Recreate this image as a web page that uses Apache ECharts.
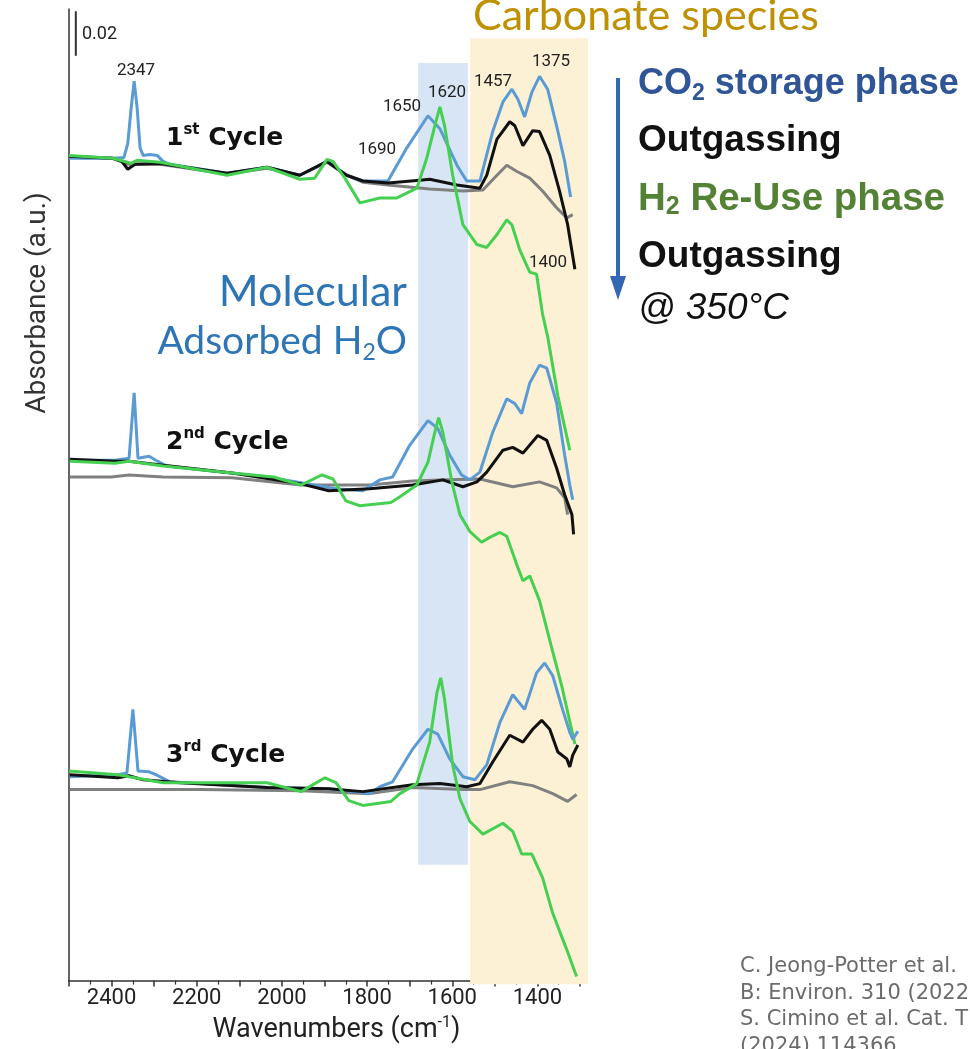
<!DOCTYPE html>
<html><head><meta charset="utf-8">
<script src="https://cdn.jsdelivr.net/npm/echarts@6/dist/echarts.min.js"></script>
<style>html,body{margin:0;padding:0;background:#fff}#c{width:970px;height:1049px}</style>
</head><body><div id="c"></div>
<script>
// ---- data: [wavenumber (cm-1), absorbance offset (mA.U.)] ----
const blue1 = [[2500,369.0],[2397,369.0],[2371,369.4],[2362,375.6],[2354,391.6],[2347,403.6],[2340,391.6],[2333,373.6],[2326,370.3],[2310,370.7],[2293,370.3],[2279,367.6],[2263,366.3],[2129,362.3],[2035,365.0],[1958,361.4],[1894,367.6],[1848,361.4],[1810,358.8],[1751,358.8],[1707,373.6],[1657,388.1],[1629,382.3],[1589,365.9],[1566,358.8],[1535,358.8],[1505,381.0],[1481,394.3],[1460,400.0],[1446,395.6],[1430,387.6],[1413,398.7],[1395,405.8],[1376,400.0],[1355,383.6],[1336,367.6],[1322,351.6]];
const black1 = [[2500,369.9],[2397,369.0],[2376,367.6],[2362,364.1],[2345,366.3],[2286,366.7],[2129,362.3],[2035,365.0],[1958,361.4],[1894,367.6],[1848,361.4],[1810,358.8],[1751,357.9],[1676,359.2],[1653,359.6],[1589,357.0],[1535,355.6],[1519,361.4],[1495,377.6],[1465,385.4],[1453,383.6],[1434,374.7],[1411,381.4],[1395,381.0],[1371,370.3],[1348,354.3],[1329,339.2],[1312,319.2]];
const gray1 = [[2500,369.4],[2397,369.0],[2362,366.3],[2286,366.3],[2129,361.9],[2035,364.5],[1958,361.4],[1894,367.2],[1848,361.4],[1810,358.3],[1751,357.0],[1653,355.2],[1575,354.3],[1528,354.8],[1495,361.4],[1472,365.9],[1449,363.2],[1418,360.1],[1388,354.3],[1355,346.8],[1331,342.3],[1317,343.7]];
const green1 = [[2500,370.3],[2397,369.0],[2369,367.6],[2354,366.7],[2340,368.1],[2286,367.2],[2129,361.4],[2035,365.0],[1958,359.6],[1923,360.1],[1894,368.5],[1880,367.6],[1852,360.1],[1817,349.0],[1770,351.2],[1730,351.2],[1683,355.6],[1660,369.0],[1641,383.6],[1629,392.1],[1618,383.6],[1599,361.4],[1575,339.2],[1542,330.3],[1519,329.0],[1495,334.8],[1472,341.4],[1460,339.2],[1441,327.7],[1418,317.9],[1402,317.0],[1388,299.2],[1376,289.0],[1352,262.4],[1324,238.0]];

const blue2 = [[2498,233.5],[2392,233.5],[2359,234.4],[2347,263.7],[2338,234.4],[2312,235.3],[2296,233.5],[2270,230.9],[2035,226.0],[1873,220.7],[1810,219.8],[1770,224.7],[1740,226.0],[1700,240.2],[1657,251.3],[1634,247.8],[1606,235.8],[1578,226.9],[1559,224.7],[1535,228.2],[1505,246.0],[1472,261.1],[1453,258.9],[1437,254.4],[1418,268.2],[1395,276.2],[1378,274.8],[1355,259.3],[1336,235.8],[1324,222.4],[1317,215.8]];
const black2 = [[2498,234.0],[2392,233.1],[2359,233.1],[2279,231.3],[2117,227.8],[1955,222.9],[1890,219.8],[1794,220.7],[1693,222.4],[1622,224.7],[1575,221.6],[1542,223.8],[1519,228.2],[1481,238.0],[1458,239.3],[1434,236.7],[1399,244.6],[1378,242.4],[1355,230.0],[1336,218.0],[1319,209.1],[1315,200.2]];
const gray2 = [[2498,226.0],[2401,226.0],[2359,226.9],[2279,226.0],[2117,225.6],[1955,222.4],[1794,222.4],[1693,224.2],[1613,224.7],[1535,225.1],[1458,221.6],[1395,223.8],[1355,221.1],[1336,216.7],[1329,209.1]];
const green2 = [[2498,233.1],[2392,232.2],[2359,233.1],[2279,230.9],[2117,227.8],[2019,226.0],[1955,222.4],[1906,226.9],[1880,225.1],[1850,215.3],[1817,213.1],[1744,214.5],[1723,217.1],[1683,222.4],[1657,232.7],[1641,246.0],[1632,252.6],[1622,246.0],[1601,223.8],[1582,209.1],[1559,201.6],[1531,196.7],[1512,198.9],[1488,201.1],[1472,199.4],[1449,186.9],[1434,179.4],[1418,181.6],[1395,170.5],[1371,152.7],[1343,132.3],[1312,106.1]];

const blue3 = [[2498,91.5],[2385,92.4],[2364,93.2],[2350,121.7],[2338,94.1],[2312,93.7],[2296,92.4],[2263,89.2],[2035,86.6],[1890,86.1],[1794,83.9],[1770,87.0],[1740,89.2],[1693,103.9],[1657,112.8],[1634,110.6],[1606,99.5],[1575,91.5],[1547,90.1],[1519,96.8],[1488,115.9],[1458,128.3],[1430,121.7],[1402,138.1],[1383,142.5],[1364,136.8],[1341,121.7],[1324,111.4],[1317,108.3],[1305,111.9]];
const black3 = [[2498,92.4],[2385,91.0],[2359,91.9],[2326,90.1],[2239,88.8],[2035,86.6],[1890,86.1],[1810,84.8],[1693,87.9],[1629,88.4],[1566,87.0],[1535,88.4],[1505,98.1],[1465,110.1],[1434,107.0],[1411,112.8],[1390,116.8],[1371,112.8],[1352,102.6],[1331,99.5],[1324,95.9],[1317,101.2],[1305,105.7]];
const gray3 = [[2498,85.7],[2359,85.7],[2197,85.7],[1955,85.2],[1794,83.9],[1693,86.6],[1575,85.7],[1535,85.7],[1465,89.2],[1411,87.5],[1364,83.9],[1329,80.4],[1308,83.5]];
const green3 = [[2500,94.1],[2385,92.4],[2359,91.5],[2279,88.8],[2035,88.8],[1955,84.8],[1899,91.0],[1873,88.8],[1843,80.8],[1810,78.6],[1744,80.4],[1723,83.9],[1683,88.4],[1653,107.0],[1636,129.2],[1627,135.9],[1618,126.1],[1599,96.8],[1582,81.7],[1559,71.5],[1528,65.7],[1481,70.6],[1458,67.0],[1437,56.8],[1413,56.8],[1388,46.2],[1364,30.2],[1331,13.8],[1308,1.8]];

const scaleBar = [[2484,435],[2484,415]];
const waterBand = [1680, 1563, 56, 412];      // x from, x to, y from, y to
const carbonateBand = [1558, 1281, 3, 423];
const xTickLabels = [1400, 1600, 1800, 2000, 2200, 2400];

const C = {blue:'#5b9bd5', black:'#111111', gray:'#808080', green:'#45d052'};

function ln(data, color, grid){
  return {type:'line', data:data, xAxisIndex:grid||0, yAxisIndex:grid||0, showSymbol:false, symbol:'none',
    smooth:false, animation:false, silent:true, clip:false,
    lineStyle:{color:color, width:3}, z:3};
}
const series = [
  {type:'line', data:[], xAxisIndex:1, yAxisIndex:1, silent:true, animation:false, z:0,
   markArea:{silent:true, data:[
     [{coord:[waterBand[0],waterBand[3]], itemStyle:{color:'#d8e5f4'}},{coord:[waterBand[1],waterBand[2]]}],
     [{coord:[carbonateBand[0],carbonateBand[3]], itemStyle:{color:'#fdf1d5'}},{coord:[carbonateBand[1],carbonateBand[2]]}]
   ]}},
  ln(gray1,C.gray), ln(blue1,C.blue), ln(black1,C.black), ln(green1,C.green),
  ln(gray2,C.gray), ln(blue2,C.blue), ln(black2,C.black), ln(green2,C.green),
  ln(gray3,C.gray), ln(blue3,C.blue), ln(black3,C.black), ln(green3,C.green),
  {type:'line', data:scaleBar, showSymbol:false, symbol:'none', animation:false, silent:true,
   lineStyle:{color:'#333', width:2}, z:3}
];

const sans = 'Roboto, "Noto Sans", sans-serif';
function txt(x,y,text,opt){
  return Object.assign({type:'text', x:x, y:y, z:20, silent:true,
    style:Object.assign({text:text, fill:'#222', font:'17px '+sans, textAlign:'left', textVerticalAlign:'middle'}, opt||{})});
}
function cyc(n, sup, y){
  return {type:'text', x:166, y:y, z:20, silent:true, style:{
    text:'{a|'+n+'}{s|'+sup+'}{a| Cycle}', textVerticalAlign:'middle', textAlign:'left',
    rich:{a:{fontFamily:'DejaVu Sans', fontWeight:'bold', fontSize:25, lineHeight:30, fill:'#111'},
          s:{fontFamily:'DejaVu Sans', fontWeight:'bold', fontSize:15, lineHeight:15, verticalAlign:'top', fill:'#111'}}}};
}
function bigRich(col, size){
  return {a:{fontFamily:'Liberation Sans', fontWeight:'bold', fontSize:size, lineHeight:42, fill:col},
          s:{fontFamily:'Liberation Sans', fontWeight:'bold', fontSize:Math.round(size*0.65), lineHeight:24, verticalAlign:'bottom', fill:col}};
}
const graphic = [
  {type:'text', x:38, y:303, rotation:Math.PI/2, z:20, silent:true,
   style:{text:'Absorbance (a.u.)', font:'28px '+sans, fill:'#333', textAlign:'center', textVerticalAlign:'middle'}},
  txt(82,34,'0.02',{font:'18px '+sans}),
  txt(136,71,'2347',{textAlign:'center'}),
  txt(377,150,'1690',{textAlign:'center'}),
  txt(402,107,'1650',{textAlign:'center'}),
  txt(447,93,'1620',{textAlign:'center'}),
  txt(493,82,'1457',{textAlign:'center'}),
  txt(551,62,'1375',{textAlign:'center'}),
  txt(548,263,'1400',{textAlign:'center'}),
  cyc('1','st',138), cyc('2','nd',442), cyc('3','rd',755),
  txt(473,16,'Carbonate species',{font:'43px Lato', fill:'#bf9000'}),
  txt(407,292,'Molecular',{font:'43px Lato', fill:'#2e75b6', textAlign:'right'}),
  {type:'text', x:407, y:341, z:20, silent:true, style:{text:'{a|Adsorbed H}{s|2}{a|O}', textAlign:'right', textVerticalAlign:'middle',
    rich:{a:{fontFamily:'Lato', fontSize:39, lineHeight:46, fill:'#2e75b6'}, s:{fontFamily:'Lato', fontSize:23, lineHeight:23, verticalAlign:'bottom', fill:'#2e75b6'}}}},
  {type:'line', z:20, silent:true, shape:{x1:618, y1:78, x2:618, y2:280}, style:{stroke:'#3366b5', lineWidth:4}},
  {type:'polygon', z:20, silent:true, shape:{points:[[610,276],[626,276],[618,300]]}, style:{fill:'#3366b5'}},
  {type:'text', x:638, y:84, z:20, silent:true, style:{text:'{a|CO}{s|2}{a| storage phase}', textVerticalAlign:'middle', rich:bigRich('#2f5597',36)}},
  txt(638,141,'Outgassing',{font:'bold 37px "Liberation Sans"', fill:'#111'}),
  {type:'text', x:638, y:199, z:20, silent:true, style:{text:'{a|H}{s|2}{a| Re-Use phase}', textVerticalAlign:'middle', rich:bigRich('#548235',38.5)}},
  txt(638,257,'Outgassing',{font:'bold 37px "Liberation Sans"', fill:'#111'}),
  txt(638,309,'@ 350°C',{font:'italic 37px "Liberation Sans"', fill:'#111'}),
  txt(740,967,'C. Jeong-Potter et al.',{font:'21px "DejaVu Sans"', fill:'#6b6b6b'}),
  txt(740,994,'B: Environ. 310 (2022',{font:'21px "DejaVu Sans"', fill:'#6b6b6b'}),
  txt(740,1020,'S. Cimino et al. Cat. T',{font:'21px "DejaVu Sans"', fill:'#6b6b6b'}),
  txt(740,1047,'(2024) 114366',{font:'21px "DejaVu Sans"', fill:'#6b6b6b'})
];

const chart = echarts.init(document.getElementById('c'), null, {renderer:'canvas'});
chart.setOption({
  animation:false,
  backgroundColor:'#ffffff',
  grid:[{left:69, right:390, top:9, bottom:58},{left:69, right:347.4, top:9, bottom:58}],
  xAxis:[{type:'value', gridIndex:0, inverse:true, min:1300, max:2500, interval:100,
    axisLine:{show:true, lineStyle:{color:'#333', width:1.5}},
    axisTick:{show:true, length:6, lineStyle:{color:'#333', width:1.5}},
    minorTick:{show:true, splitNumber:2, length:4, lineStyle:{color:'#333', width:1.2}},
    splitLine:{show:false}, minorSplitLine:{show:false},
    axisLabel:{margin:7, fontSize:22, fontFamily:'Roboto', color:'#222',
      formatter:function(v){return xTickLabels.indexOf(v)>=0 ? String(v) : '';}},
    name:'{a|Wavenumbers (cm}{s|-1}{a|)}', nameLocation:'middle', nameGap:26,
    nameTextStyle:{padding:[0,0,0,24], rich:{a:{fontFamily:'Roboto', fontSize:27, color:'#222', lineHeight:32},
      s:{fontFamily:'Roboto', fontSize:16, color:'#222', verticalAlign:'top', lineHeight:16}}}},
   {type:'value', gridIndex:1, inverse:true, min:1200, max:2500, show:false}],
  yAxis:[{type:'value', gridIndex:0, min:0, max:436, axisLine:{show:true, onZero:false, lineStyle:{color:'#333', width:1.5}},
    axisTick:{show:false}, axisLabel:{show:false}, splitLine:{show:false}},
   {type:'value', gridIndex:1, min:0, max:436, show:false}],
  series:series,
  graphic:graphic
});
</script></body></html>
